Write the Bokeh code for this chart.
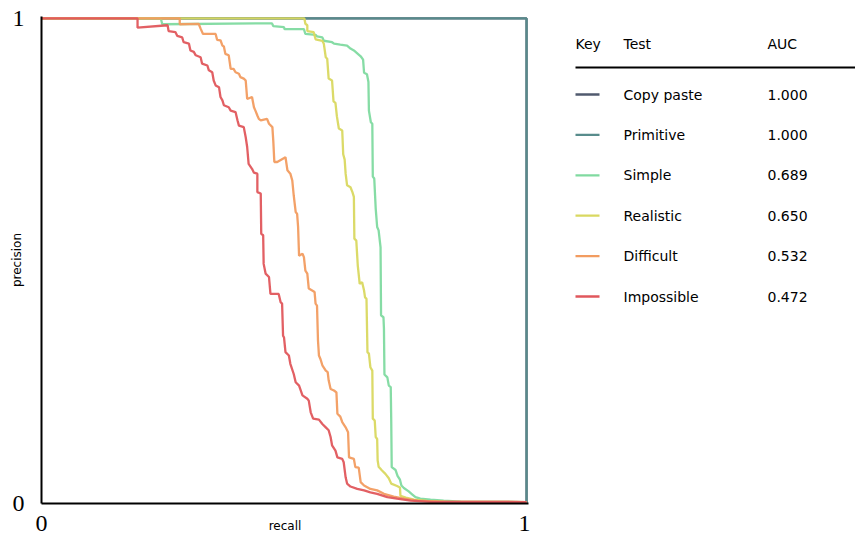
from bokeh.plotting import figure
from bokeh.layouts import row
from bokeh.models import Range1d, FixedTicker
from bokeh.core.properties import value
from bokeh.embed import file_html
from bokeh.resources import INLINE

# ---------------- data (recall, precision) ----------------
tests = ["Copy paste", "Primitive", "Simple", "Realistic", "Difficult", "Impossible"]
auc = [1.000, 1.000, 0.689, 0.650, 0.532, 0.472]

copy_recall = [0.0, 1.0, 1.0]
copy_precision = [1.0, 1.0, 0.0]

primitive_recall = [0.0, 1.0, 1.0]
primitive_precision = [1.0, 1.0, 0.0]

simple_recall = [0.0, 0.246, 0.249, 0.475, 0.478, 0.500, 0.501, 0.541, 0.544, 0.565, 0.568,
                 0.579, 0.582, 0.599, 0.603, 0.616, 0.630, 0.637, 0.644, 0.651, 0.658, 0.663,
                 0.665, 0.671, 0.674, 0.675, 0.679, 0.682, 0.683, 0.686, 0.689, 0.692, 0.695,
                 0.699, 0.700, 0.705, 0.706, 0.707, 0.713, 0.716, 0.720, 0.721, 0.722, 0.730,
                 0.734, 0.739, 0.742, 0.747, 0.757, 0.764, 0.771, 0.781, 0.802, 0.829, 0.864, 1.0]
simple_precision = [1.0, 1.0, 0.988, 0.990, 0.984, 0.982, 0.978, 0.978, 0.968, 0.966, 0.963,
                    0.961, 0.954, 0.951, 0.948, 0.946, 0.944, 0.938, 0.934, 0.928, 0.922, 0.915,
                    0.888, 0.885, 0.869, 0.810, 0.786, 0.783, 0.674, 0.670, 0.608, 0.570, 0.563,
                    0.528, 0.388, 0.384, 0.360, 0.266, 0.260, 0.243, 0.240, 0.171, 0.075, 0.069,
                    0.057, 0.049, 0.037, 0.032, 0.025, 0.019, 0.013, 0.010, 0.008, 0.006, 0.004, 0.003]

realistic_recall = [0.0, 0.542, 0.544, 0.548, 0.548, 0.561, 0.565, 0.579, 0.582, 0.586, 0.589,
                    0.592, 0.599, 0.602, 0.606, 0.609, 0.613, 0.620, 0.622, 0.625, 0.627, 0.630,
                    0.637, 0.641, 0.644, 0.645, 0.649, 0.652, 0.656, 0.661, 0.665, 0.667, 0.670,
                    0.672, 0.675, 0.678, 0.682, 0.683, 0.687, 0.689, 0.692, 0.693, 0.695, 0.702,
                    0.709, 0.716, 0.721, 0.733, 0.739, 0.740, 0.751, 0.768, 0.795, 0.833, 1.0]
realistic_precision = [1.0, 1.0, 0.989, 0.986, 0.974, 0.972, 0.957, 0.954, 0.948, 0.920, 0.917,
                       0.876, 0.872, 0.829, 0.826, 0.798, 0.773, 0.769, 0.720, 0.709, 0.680, 0.656,
                       0.652, 0.642, 0.632, 0.546, 0.542, 0.491, 0.453, 0.456, 0.439, 0.425, 0.422,
                       0.312, 0.309, 0.281, 0.274, 0.175, 0.171, 0.137, 0.133, 0.089, 0.076, 0.068,
                       0.061, 0.052, 0.041, 0.036, 0.033, 0.016, 0.012, 0.008, 0.0055, 0.0037, 0.003]

difficult_recall = [0.0, 0.285, 0.285, 0.324, 0.328, 0.333, 0.359, 0.362, 0.369, 0.373, 0.376,
                    0.379, 0.386, 0.390, 0.396, 0.400, 0.407, 0.410, 0.417, 0.421, 0.424, 0.434,
                    0.438, 0.441, 0.445, 0.448, 0.452, 0.465, 0.469, 0.476, 0.478, 0.480, 0.486,
                    0.503, 0.507, 0.513, 0.517, 0.520, 0.524, 0.527, 0.529, 0.531, 0.538, 0.541,
                    0.544, 0.548, 0.551, 0.558, 0.563, 0.565, 0.568, 0.570, 0.572, 0.575, 0.579,
                    0.586, 0.590, 0.592, 0.596, 0.603, 0.608, 0.610, 0.616, 0.620, 0.627, 0.632,
                    0.634, 0.644, 0.647, 0.654, 0.658, 0.665, 0.678, 0.692, 0.706, 0.726, 0.747,
                    0.775, 0.823, 1.0]
difficult_precision = [1.0, 1.0, 0.988, 0.989, 0.979, 0.968, 0.968, 0.956, 0.955, 0.944, 0.942,
                       0.927, 0.924, 0.896, 0.896, 0.889, 0.886, 0.879, 0.876, 0.872, 0.834, 0.838,
                       0.817, 0.810, 0.800, 0.793, 0.790, 0.793, 0.783, 0.776, 0.745, 0.704, 0.704,
                       0.714, 0.687, 0.680, 0.666, 0.635, 0.601, 0.597, 0.570, 0.511, 0.515, 0.508,
                       0.480, 0.474, 0.443, 0.439, 0.436, 0.412, 0.408, 0.336, 0.305, 0.298, 0.285,
                       0.274, 0.271, 0.254, 0.236, 0.233, 0.229, 0.185, 0.179, 0.168, 0.157, 0.147,
                       0.095, 0.092, 0.075, 0.074, 0.044, 0.037, 0.030, 0.027, 0.020, 0.014, 0.010,
                       0.006, 0.0035, 0.003]

impossible_recall = [0.0, 0.198, 0.198, 0.260, 0.262, 0.276, 0.280, 0.290, 0.293, 0.304, 0.307,
                     0.314, 0.318, 0.328, 0.331, 0.342, 0.345, 0.352, 0.355, 0.359, 0.366, 0.369,
                     0.373, 0.376, 0.386, 0.390, 0.400, 0.404, 0.407, 0.417, 0.421, 0.424, 0.427,
                     0.434, 0.438, 0.445, 0.445, 0.452, 0.453, 0.457, 0.458, 0.462, 0.469, 0.472,
                     0.489, 0.493, 0.496, 0.498, 0.500, 0.503, 0.510, 0.513, 0.520, 0.524, 0.531,
                     0.538, 0.548, 0.551, 0.555, 0.560, 0.572, 0.579, 0.586, 0.592, 0.596, 0.599,
                     0.606, 0.610, 0.620, 0.623, 0.627, 0.630, 0.637, 0.651, 0.665, 0.678, 0.692,
                     0.713, 0.733, 0.761, 0.802, 1.0]
impossible_precision = [1.0, 1.0, 0.981, 0.986, 0.974, 0.972, 0.964, 0.961, 0.951, 0.948, 0.934,
                        0.931, 0.924, 0.920, 0.907, 0.903, 0.893, 0.889, 0.872, 0.862, 0.858, 0.838,
                        0.831, 0.821, 0.817, 0.810, 0.807, 0.790, 0.779, 0.776, 0.755, 0.735, 0.700,
                        0.690, 0.682, 0.680, 0.642, 0.639, 0.556, 0.553, 0.494, 0.474, 0.467, 0.432,
                        0.432, 0.415, 0.412, 0.346, 0.342, 0.312, 0.305, 0.288, 0.267, 0.250, 0.243,
                        0.223, 0.216, 0.212, 0.188, 0.175, 0.173, 0.164, 0.157, 0.151, 0.137, 0.120,
                        0.109, 0.095, 0.092, 0.085, 0.054, 0.041, 0.035, 0.030, 0.027, 0.023, 0.020,
                        0.013, 0.010, 0.006, 0.0035, 0.003]

series_recall = [copy_recall, primitive_recall, simple_recall, realistic_recall,
                 difficult_recall, impossible_recall]
series_precision = [copy_precision, primitive_precision, simple_precision, realistic_precision,
                    difficult_precision, impossible_precision]

# ---------------- styles ----------------
palette = ["#505a6e", "#588c8c", "#80daa0", "#d9d860", "#f29c60", "#e0575c"]
LINE_W = 2.3
TOP, BOTTOM = 16, 32

# ---------------- main chart ----------------
p = figure(width=530, height=535, output_backend="svg", toolbar_location=None,
           x_range=Range1d(0, 1.004), y_range=Range1d(0, 1.004),
           min_border_left=41, min_border_right=2, min_border_top=TOP, min_border_bottom=BOTTOM)
p.outline_line_color = None
p.xgrid.visible = False
p.ygrid.visible = False
p.background_fill_color = "white"
p.border_fill_color = "white"

for rec, prec, col in zip(series_recall, series_precision, palette):
    p.line(rec, prec, line_color=col, line_width=LINE_W, line_alpha=0.95)

for ax in (p.xaxis[0], p.yaxis[0]):
    ax.ticker = FixedTicker(ticks=[0, 1])
    ax.major_tick_line_color = None
    ax.minor_tick_line_color = None
    ax.axis_line_color = "black"
    ax.axis_line_width = 2
    ax.major_label_text_font = "Liberation Serif"
    ax.major_label_text_font_size = "24px"
    ax.major_label_text_color = "black"
    ax.axis_label_text_font = "DejaVu Sans"
    ax.axis_label_text_font_size = "12px"
    ax.axis_label_text_font_style = "normal"
    ax.axis_label_text_color = "black"

p.xaxis.axis_label = "recall"
p.yaxis.axis_label = "precision"
p.xaxis.major_label_standoff = 6
p.xaxis.axis_label_standoff = -15
p.yaxis.major_label_standoff = 11
p.yaxis.axis_label_standoff = -14
p.yaxis.major_label_orientation = "horizontal"

# ---------------- key table ----------------
LW = 325
leg = figure(width=LW, height=535, output_backend="svg", toolbar_location=None,
             x_range=Range1d(0, LW), y_range=Range1d(535 - BOTTOM, TOP),
             min_border_left=0, min_border_right=0, min_border_top=TOP, min_border_bottom=BOTTOM,
             x_axis_type=None, y_axis_type=None)
leg.outline_line_color = None
leg.xgrid.visible = False
leg.ygrid.visible = False
leg.border_fill_color = "white"

font = value("DejaVu Sans")
fsize = "14px"
x_key, x_test, x_auc, x_end = 45, 93, 237, 325
y_head, y_rule, y0, dy = 43, 67, 94, 40.4

leg.text(x=[x_key, x_test, x_auc], y=[y_head] * 3, text=["Key", "Test", "AUC"],
         text_font=font, text_font_size=fsize, text_baseline="middle", text_color="black")
leg.segment(x0=[x_key], y0=[y_rule], x1=[x_end], y1=[y_rule], line_color="black", line_width=2)

ys = [y0 + i * dy for i in range(len(tests))]
leg.segment(x0=[x_key] * len(tests), y0=ys, x1=[x_key + 24] * len(tests), y1=ys,
            line_color=palette, line_width=LINE_W)
leg.text(x=[x_test] * len(tests), y=ys, text=tests, text_font=font, text_font_size=fsize,
         text_baseline="middle", text_color="black")
leg.text(x=[x_auc] * len(tests), y=ys, text=[f"{a:.3f}" for a in auc], text_font=font,
         text_font_size=fsize, text_baseline="middle", text_color="black")

layout = row(p, leg, spacing=0)
open("out.html", "w").write(file_html(layout, INLINE))
